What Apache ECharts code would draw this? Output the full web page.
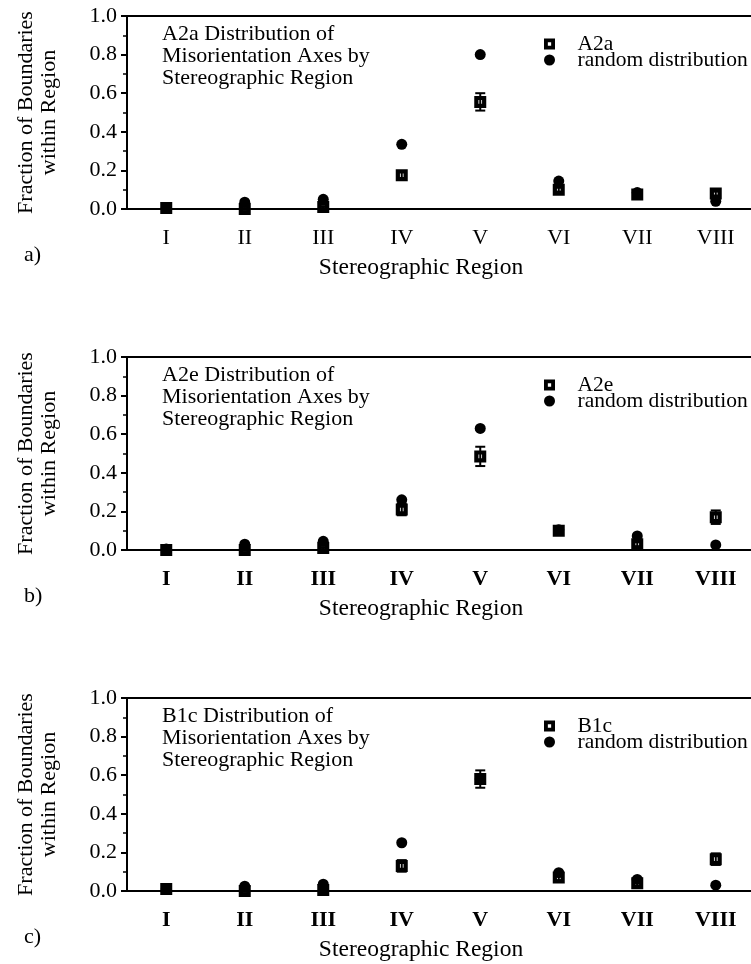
<!DOCTYPE html>
<html>
<head>
<meta charset="utf-8">
<script src="https://cdn.jsdelivr.net/npm/echarts@6/dist/echarts.min.js"></script>
<style>
  html, body { margin: 0; padding: 0; background: #fff; }
  #chart { width: 751px; height: 964px; }
</style>
</head>
<body>
<div id="chart"></div>
<script>
  // stereographic regions (x categories)
  var regions = ['I', 'II', 'III', 'IV', 'V', 'VI', 'VII', 'VIII']

  // panel a) A2a
  var a2aValues = [0.005, 0.0, 0.01, 0.175, 0.555, 0.10, 0.075, 0.08]
  var a2aErrors = [0.005, 0.005, 0.005, 0.02, 0.045, 0.01, 0.015, 0.01]
  var a2aRandom = [0.005, 0.035, 0.05, 0.335, 0.80, 0.145, 0.085, 0.04]

  // panel b) A2e
  var a2eValues = [0.0, 0.0, 0.01, 0.21, 0.485, 0.10, 0.03, 0.17]
  var a2eErrors = [0.005, 0.005, 0.005, 0.03, 0.05, 0.015, 0.01, 0.035]
  var a2eRandom = [0.005, 0.03, 0.045, 0.26, 0.63, 0.105, 0.073, 0.026]

  // panel c) B1c
  var b1cValues = [0.01, 0.0, 0.005, 0.13, 0.58, 0.07, 0.04, 0.165]
  var b1cErrors = [0.005, 0.005, 0.005, 0.03, 0.045, 0.015, 0.015, 0.03]
  var b1cRandom = [0.01, 0.025, 0.035, 0.25, 0.58, 0.095, 0.06, 0.03]

  var panels = [
    { name: 'A2a', letter: 'a)', values: a2aValues, errors: a2aErrors, random: a2aRandom, bold: false },
    { name: 'A2e', letter: 'b)', values: a2eValues, errors: a2eErrors, random: a2eRandom, bold: true },
    { name: 'B1c', letter: 'c)', values: b1cValues, errors: b1cErrors, random: b1cRandom, bold: true }
  ]

  var gridTops = [16, 357, 698]
  var plotLeft = 127
  var plotW = 628
  var plotH = 193
  var font = 'Liberation Serif'
  var black = '#000'
  // black square with a small white hole
  var squareSymbol = 'path://M0,0H10V10H0Z M3.5,3.5V6.5H6.5V3.5Z'

  function renderErrorBar(params, api) {
    var x = api.value(0)
    var y = api.value(1)
    var e = api.value(2)
    var lo = api.coord([x, y - e])
    var hi = api.coord([x, y + e])
    var cap = 5
    var style = { stroke: black, lineWidth: 2 }
    return {
      type: 'group',
      children: [
        { type: 'line', shape: { x1: lo[0], y1: lo[1], x2: hi[0], y2: hi[1] }, style: style },
        { type: 'line', shape: { x1: lo[0] - cap, y1: lo[1], x2: lo[0] + cap, y2: lo[1] }, style: style },
        { type: 'line', shape: { x1: hi[0] - cap, y1: hi[1], x2: hi[0] + cap, y2: hi[1] }, style: style }
      ]
    }
  }

  var grids = [], xAxes = [], yAxes = [], series = [], legends = [], graphics = []

  panels.forEach(function (p, i) {
    var top = gridTops[i]
    grids.push({
      left: plotLeft, top: top, width: plotW, height: plotH,
      outerBoundsMode: 'none', containLabel: false,
      show: true, borderColor: black, borderWidth: 2
    })
    xAxes.push({
      type: 'category', gridIndex: i, data: regions, position: 'bottom', boundaryGap: true,
      axisLine: { lineStyle: { color: black, width: 2 } },
      axisTick: { alignWithLabel: true, length: 8, lineStyle: { color: black, width: 2 } },
      axisLabel: { color: black, fontFamily: font, fontSize: 22, fontWeight: p.bold ? 'bold' : 'normal', margin: 18 },
      splitLine: { show: false },
      name: 'Stereographic Region', nameLocation: 'middle', nameGap: 47,
      nameTextStyle: { color: black, fontFamily: font, fontSize: 23.5, padding: [0, 40, 0, 0] }
    })
    // second axis only for the short ticks between regions
    xAxes.push({
      type: 'category', gridIndex: i, data: regions, position: 'bottom', boundaryGap: true,
      axisLine: { show: false },
      axisTick: { length: 5, lineStyle: { color: black, width: 2 } },
      axisLabel: { show: false },
      splitLine: { show: false }
    })
    yAxes.push({
      type: 'value', gridIndex: i, min: 0, max: 1, interval: 0.2,
      axisLine: { show: true, lineStyle: { color: black, width: 2 } },
      axisTick: { show: true, length: 6, lineStyle: { color: black, width: 2 } },
      minorTick: { show: true, splitNumber: 2, length: 4, lineStyle: { color: black, width: 1.5 } },
      splitLine: { show: false },
      axisLabel: {
        color: black, fontFamily: font, fontSize: 22, margin: 10,
        formatter: function (v) { return v.toFixed(1) }
      },
      name: 'Fraction of Boundaries\nwithin Region', nameLocation: 'middle', nameRotate: 90, nameGap: 66,
      nameTextStyle: { color: black, fontFamily: font, fontSize: 22, lineHeight: 23 }
    })

    series.push({
      name: 'random distribution', type: 'scatter', xAxisIndex: 2 * i, yAxisIndex: i,
      symbol: 'circle', symbolSize: 11, itemStyle: { color: black, opacity: 1 },
      data: p.random
    })
    series.push({
      type: 'custom', xAxisIndex: 2 * i, yAxisIndex: i,
      renderItem: renderErrorBar, encode: { x: 0, y: 1 },
      data: p.values.map(function (v, k) { return [k, v, p.errors[k]] })
    })
    series.push({
      name: p.name, type: 'scatter', xAxisIndex: 2 * i, yAxisIndex: i,
      symbol: squareSymbol, symbolSize: 12, itemStyle: { color: black, opacity: 1 },
      data: p.values
    })

    legends.push({
      orient: 'vertical', left: 544, top: top + 17, padding: 0,
      itemWidth: 46, itemHeight: 11, itemGap: -6, selectedMode: false,
      data: [p.name, 'random distribution'],
      textStyle: { color: black, fontFamily: font, fontSize: 21.5, lineHeight: 16 }
    })

    graphics.push({
      type: 'text', left: 162, top: top + 7,
      style: {
        text: p.name + ' Distribution of\nMisorientation Axes by\nStereographic Region',
        font: '22px "Liberation Serif"', lineHeight: 22, fill: black
      }
    })
    graphics.push({
      type: 'text', left: 24, top: top + plotH + 35,
      style: { text: p.letter, font: '22px "Liberation Serif"', fill: black }
    })
  })

  var myChart = echarts.init(document.getElementById('chart'))
  var option = {
    backgroundColor: '#fff',
    animation: false,
    grid: grids,
    xAxis: xAxes,
    yAxis: yAxes,
    legend: legends,
    graphic: graphics,
    series: series
  }
  myChart.setOption(option)
  window.addEventListener('resize', myChart.resize)
</script>
</body>
</html>
